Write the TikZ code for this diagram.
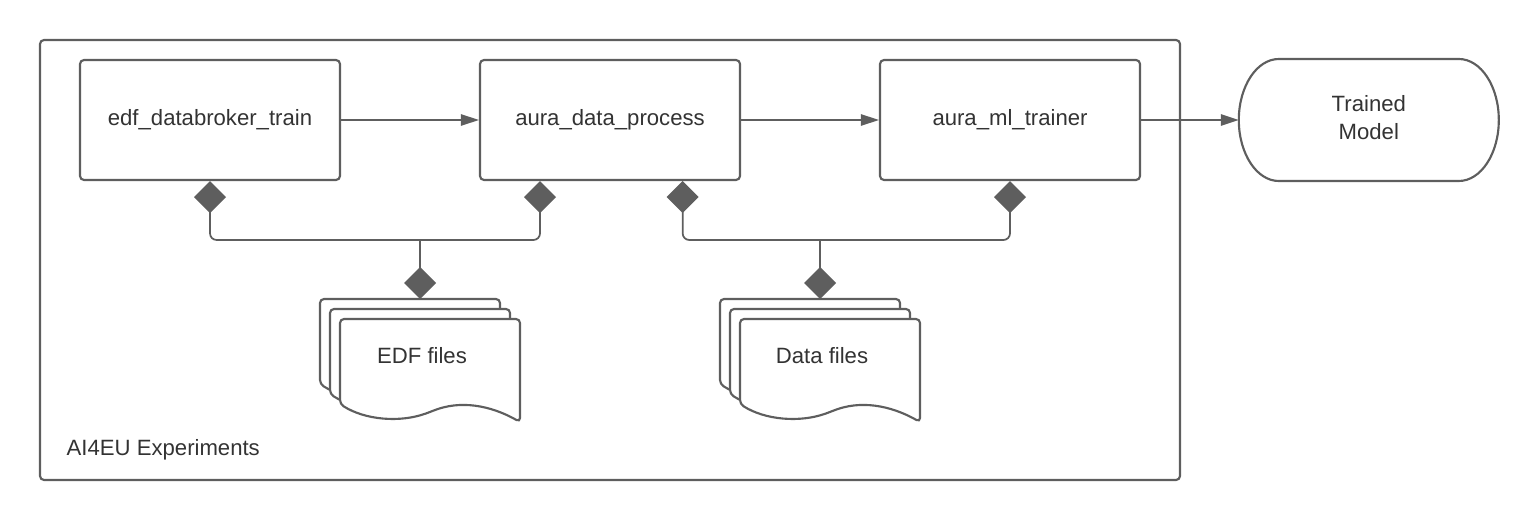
\documentclass[tikz,border=0pt]{standalone}
\usepackage{fontspec}
\setmainfont{Liberation Sans}
\usetikzlibrary{positioning}
\usetikzlibrary{arrows.meta}
\definecolor{linegray}{HTML}{5E5E5E}
\definecolor{textgray}{HTML}{333333}
\tikzset{
    procbox/.style = {rectangle, rounded corners=3pt, line width=1.6pt, draw=linegray, fill=white, minimum width=195pt, minimum height=90pt, text=textgray},
    endbox/.style = {rectangle, outer sep=0pt, minimum width=195pt, minimum height=91.5pt, align=center, text=textgray},
    outline/.style = {line width=1.6pt, draw=linegray, fill=white},
    frame/.style = {line width=1.6pt, draw=linegray, rounded corners=3pt},
    pageline/.style = {line width=1.6pt, draw=linegray, fill=white, rounded corners=3pt},
    filetext/.style = {text=textgray},
    flow/.style = {-{Triangle[length=13.5pt,width=8.5pt]}, line width=1.3pt, draw=linegray},
    datalink/.style = {{Diamond[length=24pt,width=24pt]}-{Diamond[length=24pt,width=24pt]}, line width=1.3pt, draw=linegray, rounded corners=5pt}, % both ends
    datadrop/.style = {-{Diamond[length=24pt,width=24pt]}, line width=1.3pt, draw=linegray} % to the files
}
% one sheet of a file stack, top left corner at (#1,#2)
\newcommand{\filepage}[2]{%
  \draw[pageline] (#1,#2+60) -- (#1,#2) -- (#1+180,#2) -- (#1+180,#2+103)
    .. controls (#1+150,#2+86) and (#1+120,#2+81) .. (#1+90,#2+93)
    .. controls (#1+60,#2+104) and (#1+25,#2+101) .. (#1,#2+85) -- cycle;}

\begin{document}
\begin{tikzpicture}[
    x=0.75pt, y=-0.75pt,
    node distance=103.4pt,
    font=\fontsize{16.6}{21}\selectfont]
    \useasboundingbox (0,0) rectangle (1540,520);

  \draw[frame] (40,40) rectangle (1180,480);
  \node[anchor=base west, text=textgray] (explabel) at (62,455) {AI4EU Experiments};

  \node[procbox] (broker) at (210,120) {edf\_databroker\_train};
  \node[procbox, right=of broker] (process) {aura\_data\_process};
  \node[procbox, right=of process] (trainer) {aura\_ml\_trainer};
  \node[endbox, right=73.3pt of trainer] (model) {};
  \draw[outline] ([xshift=30pt]model.north west) -- ([xshift=-30pt]model.north east)
      arc[start angle=90, end angle=-90, x radius=30pt, y radius=45.75pt]
      -- ([xshift=30pt]model.south west)
      arc[start angle=270, end angle=90, x radius=30pt, y radius=45.75pt] -- cycle;
  \node[endbox, yshift=1.5pt] (modeltext) at (model) {Trained\\Model};

  \draw[flow] (broker) -- (process);
  \draw[flow] (process) -- (trainer);
  \draw[flow] (trainer) -- (model);

  % file stacks
  \foreach \k in {0,1,2} {\filepage{320+10*\k}{299+10*\k}}
  \foreach \k in {0,1,2} {\filepage{720+10*\k}{299+10*\k}}
  \node[filetext] (edffiles) at (422,356) {EDF files};
  \node[filetext] (datafiles) at (822,356) {Data files};
  \coordinate (edftop) at (420,299);
  \coordinate (datatop) at (820,299);
  \coordinate (jedf) at (420,240);
  \coordinate (jdata) at (820,240);

  \draw[datalink] (broker.south) |- (jedf) -| ([xshift=-52.5pt]process.south);
  \draw[datadrop] (jedf) -- (edftop);
  \draw[datalink] ([xshift=54.5pt]process.south) |- (jdata) -| (trainer.south);
  \draw[datadrop] (jdata) -- (datatop);

\end{tikzpicture}
\end{document}
